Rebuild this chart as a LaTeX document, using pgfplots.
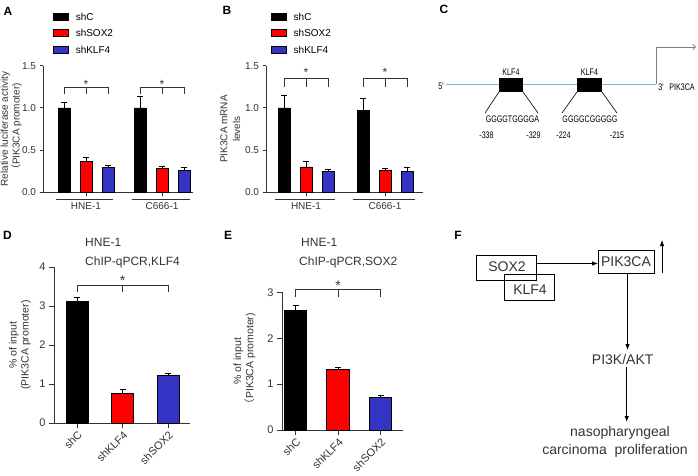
\documentclass[border=0pt]{standalone}
\usepackage{pgfplots}
\pgfplotsset{compat=1.18}
\usepackage{fontspec}
\setmainfont{Liberation Sans}
\newfontfamily\cjk{Noto Sans CJK SC}
\newfontfamily\narrowfont[FakeStretch=0.75]{Liberation Sans}
\usetikzlibrary{arrows.meta}

\definecolor{shred}{HTML}{FF0000}
\definecolor{shblue}{HTML}{3333C4}
\definecolor{axgray}{HTML}{333333}
\definecolor{dnablue}{HTML}{80B4D4}

\tikzset{sigstar/.style={anchor=base, inner sep=0pt, text=axgray}}

\pgfplotsset{
  panel/.style={
    scale only axis, clip=false,
    axis x line*=bottom, axis y line*=left,
    axis line style={axgray, line width=0.9pt},
    tick align=outside,
    every tick/.style={axgray, line width=0.9pt},
    major tick length=3.5pt,
    /pgf/number format/assume math mode=true,
    tick label style={text=axgray},
    ylabel style={text=axgray, align=center, anchor=center},
    xmin=0, ymin=0,
  },
  bar/.style={ybar, bar shift=0pt, draw=black, line width=0.8pt,
    error bars/y dir=plus, error bars/y explicit,
    error bars/error bar style={black, line width=0.8pt},
    error bars/error mark options={rotate=90, mark size=3pt, line width=0.8pt}},
  shleg/.style={
    legend style={anchor=north west, draw=none, fill=none, inner sep=0pt,
      row sep=8.5pt, column sep=6.5pt, font=\fontsize{10}{10}\selectfont,
      nodes={inner sep=0pt, text height=7.3pt, text depth=0pt}},
    legend cell align=left,
    legend image code/.code={\draw[##1, line width=0.8pt] (0pt,-3.6pt) rectangle (15.5pt,3.6pt);},
  },
  rotlab/.style={x tick label style={rotate=45, anchor=north east, inner sep=1.5pt, font=\fontsize{11}{11}\selectfont}},
}

\begin{document}
\begin{tikzpicture}
\useasboundingbox (0pt,0pt) rectangle (698pt,-476pt);

% A
\begin{axis}[panel, shleg, at={(43pt,-192.3pt)}, anchor=south west,
  width=150pt, height=126.6pt, xmax=150, ymax=1.5,
  ytick={0,0.5,1,1.5},
  y tick label style={/pgf/number format/fixed, /pgf/number format/fixed zerofill, /pgf/number format/precision=1, font=\fontsize{10}{10}\selectfont},
  xtick={43,119}, xticklabels={HNE-1,C666-1},
  x tick label style={font=\fontsize{10}{10}\selectfont, yshift=-3pt},
  legend style={at={(axis description cs:0.065,1.42)}},
  ylabel={Relative luciferase activity\\{\cjk （}PIK3CA promoter)},
  ylabel style={at={(axis description cs:-0.212,0.5)}, font=\fontsize{10}{10}\selectfont}]
\addplot[bar, bar width=12, fill=black] coordinates {(21,1.00) +- (0,0.07) (97,1.00) +- (0,0.14)};
\addplot[bar, bar width=12, fill=shred] coordinates {(43,0.37) +- (0,0.04) (119,0.28) +- (0,0.03)};
\addplot[bar, bar width=12, fill=shblue] coordinates {(65,0.29) +- (0,0.03) (141,0.26) +- (0,0.04)};
\legend{shC,shSOX2,shKLF4}
\draw[axgray, line width=0.8pt] (axis cs:13,-0.085) -- (axis cs:70,-0.085) (axis cs:89,-0.085) -- (axis cs:147,-0.085);
\draw[axgray, line width=0.8pt] (axis cs:21,1.164) |- (axis cs:65,1.242) -- (axis cs:65,1.164) (axis cs:43,1.242) -- (axis cs:43,1.164);
\draw[axgray, line width=0.8pt] (axis cs:97,1.164) |- (axis cs:141,1.242) -- (axis cs:141,1.164) (axis cs:119,1.242) -- (axis cs:119,1.164);
\node[sigstar, font=\fontsize{12}{12}\selectfont] at (axis cs:43,1.235) {*};
\node[sigstar, font=\fontsize{12}{12}\selectfont] at (axis cs:119,1.235) {*};
\end{axis}

% B
\begin{axis}[panel, shleg, at={(266pt,-192.3pt)}, anchor=south west,
  width=157pt, height=126.6pt, xmax=157, ymax=1.5,
  ytick={0,0.5,1,1.5},
  y tick label style={/pgf/number format/fixed, /pgf/number format/fixed zerofill, /pgf/number format/precision=1, font=\fontsize{10}{10}\selectfont},
  xtick={40,119}, xticklabels={HNE-1,C666-1},
  x tick label style={font=\fontsize{10}{10}\selectfont, yshift=-3pt},
  legend style={at={(axis description cs:0.03,1.42)}},
  ylabel={PIK3CA mRNA\\levels},
  ylabel style={at={(axis description cs:-0.227,0.5)}, font=\fontsize{10}{12.7}\selectfont}]
\addplot[bar, bar width=12, fill=black] coordinates {(18,1.00) +- (0,0.15) (97,0.97) +- (0,0.14)};
\addplot[bar, bar width=12, fill=shred] coordinates {(40,0.30) +- (0,0.07) (119,0.26) +- (0,0.02)};
\addplot[bar, bar width=12, fill=shblue] coordinates {(62,0.25) +- (0,0.02) (141,0.25) +- (0,0.04)};
\legend{shC,shSOX2,shKLF4}
\draw[axgray, line width=0.8pt] (axis cs:9,-0.085) -- (axis cs:69,-0.085) (axis cs:87,-0.085) -- (axis cs:149,-0.085);
\draw[axgray, line width=0.8pt] (axis cs:18,1.247) |- (axis cs:62,1.345) -- (axis cs:62,1.247) (axis cs:40,1.345) -- (axis cs:40,1.247);
\draw[axgray, line width=0.8pt] (axis cs:97,1.247) |- (axis cs:141,1.345) -- (axis cs:141,1.247) (axis cs:119,1.345) -- (axis cs:119,1.247);
\node[sigstar, font=\fontsize{12}{12}\selectfont] at (axis cs:40,1.37) {*};
\node[sigstar, font=\fontsize{12}{12}\selectfont] at (axis cs:119,1.37) {*};
\end{axis}

% D
\begin{axis}[panel, rotlab, at={(54pt,-423pt)}, anchor=south west,
  width=136pt, height=156pt, xmax=136, ymax=4, ytick={0,1,2,3,4},
  major tick length=5pt,
  xtick={23,68.5,114}, xticklabels={shC,shKLF4,shSOX2},
  y tick label style={font=\fontsize{11}{11}\selectfont},
  ylabel={\% of input\\(PIK3CA promoter)},
  ylabel style={at={(axis description cs:-0.25,0.5)}, font=\fontsize{10.5}{12}\selectfont}]
\addplot[bar, bar width=22, fill=black] coordinates {(23,3.11) +- (0,0.10)};
\addplot[bar, bar width=22, fill=shred] coordinates {(68.5,0.75) +- (0,0.10)};
\addplot[bar, bar width=22, fill=shblue] coordinates {(114,1.23) +- (0,0.05)};
\draw[axgray, line width=0.8pt] (axis cs:23,3.37) |- (axis cs:114,3.53) -- (axis cs:114,3.37) (axis cs:68.5,3.53) -- (axis cs:68.5,3.37);
\node[sigstar, font=\fontsize{14}{14}\selectfont] at (axis cs:68.5,3.53) {*};
\end{axis}

% E
\begin{axis}[panel, rotlab, at={(282pt,-430pt)}, anchor=south west,
  width=121pt, height=137.7pt, xmax=121, ymax=3, ytick={0,1,2,3},
  major tick length=5pt,
  xtick={13.5,56,98.5}, xticklabels={shC,shKLF4,shSOX2},
  y tick label style={font=\fontsize{11}{11}\selectfont},
  ylabel={\% of input\\{\cjk （}PIK3CA promoter)},
  ylabel style={at={(axis description cs:-0.31,0.5)}, font=\fontsize{10.5}{11}\selectfont}]
\addplot[bar, bar width=22.5, fill=black] coordinates {(13.5,2.61) +- (0,0.10)};
\addplot[bar, bar width=22.5, fill=shred] coordinates {(56,1.31) +- (0,0.05)};
\addplot[bar, bar width=22.5, fill=shblue] coordinates {(98.5,0.70) +- (0,0.06)};
\draw[axgray, line width=0.8pt] (axis cs:13.5,2.90) |- (axis cs:98.5,3.07) -- (axis cs:98.5,2.90) (axis cs:56,3.07) -- (axis cs:56,2.90);
\node[sigstar, font=\fontsize{14}{14}\selectfont] at (axis cs:56,3.05) {*};
\end{axis}

\begin{scope}[x=1pt,y=-1pt]
% panel letters
\begin{scope}[every node/.style={font=\bfseries\fontsize{12}{12}\selectfont, inner sep=0pt}]
\node at (8,11) {A};
\node at (227,10) {B};
\node at (444,9.5) {C};
\node at (7.5,235.5) {D};
\node at (228,235) {E};
\node at (458,235) {F};
\end{scope}

% D / E titles
\begin{scope}[every node/.style={font=\fontsize{12}{12}\selectfont, inner sep=0pt, anchor=west, text=axgray}]
\node at (85,242.5) {HNE-1};
\node at (85,262.5) {ChIP-qPCR,KLF4};
\node at (301,242.5) {HNE-1};
\node at (299,262.5) {ChIP-qPCR,SOX2};
\end{scope}

% C: promoter diagram
\draw[dnablue, line width=0.9pt] (446,84) -- (656,84);
\draw[gray, line width=0.8pt, -{To[length=3pt]}] (656,84) -- (656,47) -- (696,47);
\fill[black] (499,78) rectangle (523,92);
\fill[black] (577,78) rectangle (602,92);
\draw[black, line width=0.6pt] (499,92) -- (485,113) (523,92) -- (538,113);
\draw[black, line width=0.6pt] (577,92) -- (562,113) (602,92) -- (617,113);
\begin{scope}[every node/.style={font=\narrowfont\fontsize{9.5}{9.5}\selectfont, inner sep=0pt}]
\node at (511,72) {KLF4};
\node at (589.5,72) {KLF4};
\node at (512.5,119.5) {GGGGTGGGGA};
\node at (590,119.5) {GGGGCGGGGG};
\node at (486.5,135) {-338};
\node at (533.5,135) {-329};
\node at (563.5,135) {-224};
\node at (617,135) {-215};
\node at (441,86) {5'};
\node at (661,87) {3'};
\node at (682,87) {PIK3CA};
\end{scope}

% F: pathway
\begin{scope}[line width=0.8pt, every node/.style={font=\fontsize{14}{14}\selectfont, inner sep=0pt, text=axgray}]
\draw (476,255) rectangle (536,280);
\draw (504,274) rectangle (554,300);
\node at (507,267) {SOX2};
\node at (530,289.5) {KLF4};
\draw (598,250) rectangle (654,273);
\node at (626,262) {PIK3CA};
\draw[-{Latex[length=6pt]}] (536,263.5) -- (598,263.5);
\draw[-{Latex[length=6pt]}] (662,273) -- (662,240);
\draw[-{Latex[length=6pt]}] (627.5,273) -- (627.5,350);
\node at (622.7,359) {PI3K/AKT};
\draw[-{Latex[length=6pt]}] (626.7,367) -- (626.7,422);
\node at (620,433) {nasopharyngeal};
\node at (615,451) {carcinoma\ \ proliferation};
\end{scope}
\end{scope}
\end{tikzpicture}
\end{document}
